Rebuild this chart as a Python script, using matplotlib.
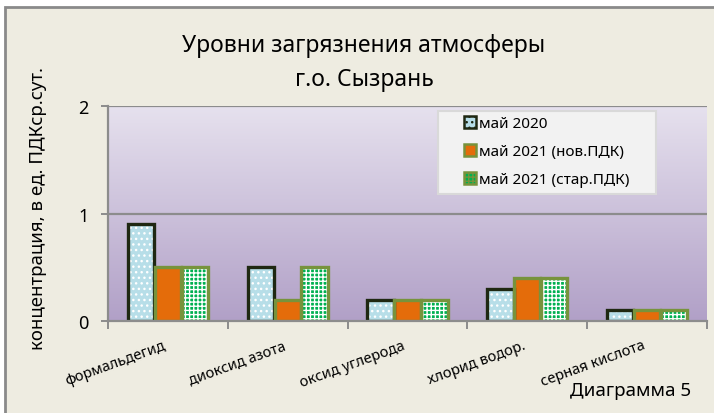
import matplotlib
matplotlib.use("Agg")
import matplotlib.pyplot as plt
import numpy as np
from matplotlib.colors import LinearSegmentedColormap
from matplotlib.patches import Rectangle, Patch

plt.rcParams["font.family"] = ["Noto Sans", "DejaVu Sans"]

# ---------------------------------------------------------------------------
# Data
# ---------------------------------------------------------------------------
categories = ["формальдегид", "диоксид азота", "оксид углерода",
              "хлорид водор.", "серная кислота"]
may2020 = [0.9, 0.5, 0.2, 0.3, 0.1]
may2021_new = [0.5, 0.2, 0.2, 0.4, 0.1]
may2021_old = [0.5, 0.5, 0.2, 0.4, 0.1]
series_labels = ["май 2020", "май 2021 (нов.ПДК)", "май 2021 (стар.ПДК)"]
y_ticks = [0, 1, 2]

W, H = 714, 414
fig = plt.figure(figsize=(W / 100, H / 100), dpi=100)
fig.patch.set_facecolor("white")

# chart frame (beige area with gray border)
fig.patches.append(Rectangle((5 / W, -0.05), 1.1, 1 - 8 / H + 0.05,
                             transform=fig.transFigure, facecolor="#EEECE1",
                             edgecolor="#8A8A8A", linewidth=2, zorder=-10))

ax = fig.add_axes([108 / W, 1 - 322 / H, 599 / W, 215 / H])
ax.set_facecolor("none")

# gradient plot area
grad = LinearSegmentedColormap.from_list("g", ["#B1A0C7", "#E6E1EE"])
ax.imshow(np.linspace(0, 1, 256).reshape(-1, 1)[::-1], cmap=grad,
          extent=[-0.5, 4.5, 0, 2], aspect="auto", zorder=0)

x = np.arange(len(categories))
bw = 0.22
styles = [
    # face, hatch, edge
    ("#B7DEE8", "...", "#1F2812"),
    ("#E46C0A", None, "#77933C"),
    ("#00B050", "++++", "#77933C"),
]
for i, (vals, (face, hatch, edge)) in enumerate(
        zip([may2020, may2021_new, may2021_old], styles)):
    pos = x + (i - 1) * (bw + 0.005)
    # fill + white hatch
    ax.bar(pos, vals, bw, color=face, hatch=hatch, edgecolor="white",
           linewidth=0, zorder=3)
    # outline
    ax.bar(pos, vals, bw, fill=False, edgecolor=edge, linewidth=2.4, zorder=4)

ax.set_xlim(-0.5, 4.5)
ax.set_ylim(0, 2)

for v in (1, 2):
    ax.axhline(v, color="#8C8C8C", linewidth=1.6, zorder=2)

for s in ("top", "right"):
    ax.spines[s].set_visible(False)
for s in ("left", "bottom"):
    ax.spines[s].set_color("#8C8C8C")
    ax.spines[s].set_linewidth(1.6)
    ax.spines[s].set_zorder(5)

ax.set_yticks(y_ticks)
ax.set_yticklabels([str(t) for t in y_ticks], fontsize=13)
ax.tick_params(axis="y", length=5, width=1.4, color="#8C8C8C", pad=9)

ax.set_xticks(np.arange(-0.5, 5, 1))
ax.set_xticklabels([])
ax.tick_params(axis="x", which="major", length=6, width=1.4, color="#8C8C8C")
ax.set_xticks(x, minor=True)
ax.set_xticklabels(categories, minor=True, rotation=20, ha="right",
                   fontsize=10.5)
ax.tick_params(axis="x", which="minor", length=0, pad=12)

# legend box + legend
ax.add_patch(Rectangle((330 / 599, (322 - 195) / 215), 218 / 599, 83 / 215,
                       transform=ax.transAxes, facecolor="#F2F2F2",
                       edgecolor="#D9D9D9", linewidth=1.5, zorder=5))
handles = [Patch(facecolor=f, edgecolor=e, linewidth=1.8, hatch=h)
           for f, h, e in styles]
ax.legend(handles, series_labels, loc="upper left",
          bbox_to_anchor=((464 - 108) / 599, (322 - 117) / 215),
          frameon=False, fontsize=11, borderpad=0, borderaxespad=0,
          handlelength=0.8, handleheight=0.8, handletextpad=0.2,
          labelspacing=0.85).set_zorder(6)

fig.text(364 / W, 1 - 46 / H, "Уровни загрязнения атмосферы",
         ha="center", va="center", fontsize=16.5)
fig.text(364 / W, 1 - 80 / H, "г.о. Сызрань",
         ha="center", va="center", fontsize=16.5)
fig.text(38 / W, 1 - 208 / H, "концентрация, в ед. ПДКср.сут.",
         ha="center", va="center", rotation=90, fontsize=13.4)
fig.text(691 / W, 1 - 391 / H, "Диаграмма 5", ha="right", va="center",
         fontsize=13.5)

fig.savefig("out.png", dpi=100)
